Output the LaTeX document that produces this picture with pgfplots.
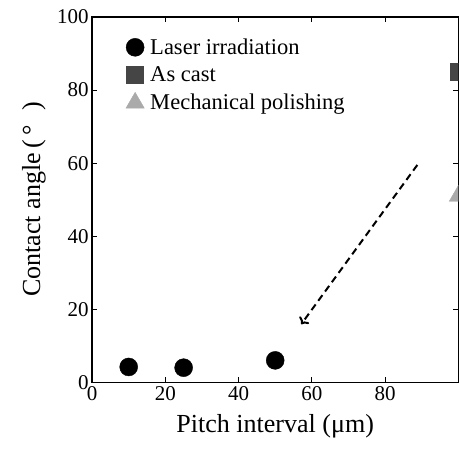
\documentclass[border=0pt]{standalone}
\usepackage{pgfplots}
\pgfplotsset{compat=1.18}
\usepackage{fontspec}
\setmainfont{Liberation Serif}
\usetikzlibrary{arrows.meta}

\definecolor{castgray}{HTML}{454545}
\definecolor{polgray}{HTML}{AAAAAA}

\begin{document}
\begin{tikzpicture}
  \begin{axis}[
    name=ax,
    scale only axis,
    width=366pt, height=365pt,
    xmin=0, xmax=100,
    ymin=0, ymax=100,
    xtick={0,20,40,60,80},
    ytick={0,20,40,60,80,100},
    xticklabel={\hbox{\fontsize{21}{23}\selectfont\rmfamily\pgfmathprintnumber[assume math mode=true]{\tick}}},
    yticklabel={\hbox{\fontsize{21}{23}\selectfont\rmfamily\pgfmathprintnumber[assume math mode=true]{\tick}}},
    tick align=inside,
    major tick length=5pt,
    axis line style={line width=1.3pt},
    every tick/.style={line width=1pt, black},
    xticklabel style={yshift=-1pt},
    xlabel={Pitch interval (μm)},
    ylabel={Contact angle\,(\,°\;\;)},
    every axis x label/.style={at={(axis description cs:0.5,0)}, yshift=-44pt,
      anchor=center, font=\fontsize{26}{28}\selectfont},
    every axis y label/.style={at={(axis description cs:0,0.5)}, xshift=-58pt,
      rotate=90, anchor=center, font=\fontsize{26}{28}\selectfont},
    clip marker paths=true,
    legend cell align=left,
    legend style={draw=none, fill=none, at={(0.084,0.952)}, anchor=north west,
      font=\fontsize{22.5}{25}\selectfont, row sep=7pt,
      /tikz/every odd column/.append style={column sep=4pt}},
  ]
    % Laser irradiation
    \addplot[only marks, mark=*, mark size=9pt, black] coordinates {
      (10, 4.2)
      (25, 4.0)
      (50, 6.0)
    };
    \addlegendentry{Laser irradiation}
    % As cast
    \addplot[only marks, mark=square*, mark size=8.5pt, castgray] coordinates {
      (100, 85)
    };
    \addlegendentry{As cast}
    % Mechanical polishing
    \addplot[only marks, mark=triangle*, mark size=10.5pt, polgray] coordinates {
      (100, 51)
    };
    \addlegendentry{Mechanical polishing}
    % arrow
    \draw[dashed, line width=2pt, dash pattern=on 7pt off 4.5pt,
      -{To[length=6pt, width=12pt]}]
      (axis cs:88.8,59.5) -- (axis cs:57.1,15.9);
  \end{axis}
  % margins as in the reference
  \path (ax.south west) ++(-92pt,-66pt) coordinate (lm);
  \path (ax.north west) ++(0,17pt) coordinate (tm);
\end{tikzpicture}
\end{document}
